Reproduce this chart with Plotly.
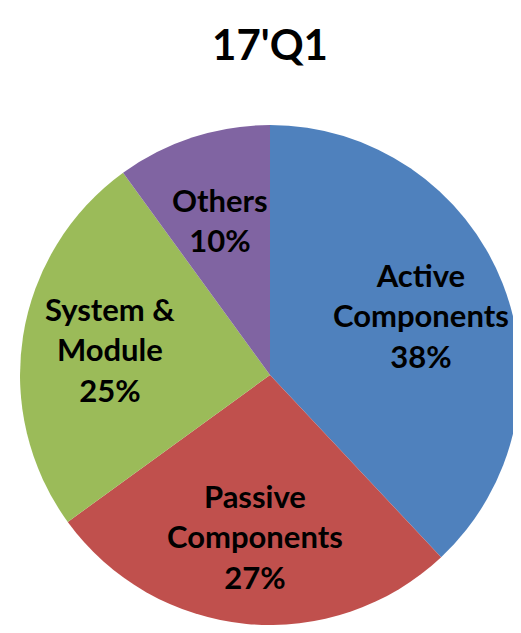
import math
import plotly.graph_objects as go

categories = ["Active<br>Components", "Passive<br>Components", "System &<br>Module", "Others"]
values = [38, 27, 25, 10]
colors = ["#4F81BD", "#C0504D", "#9BBB59", "#8064A2"]
title_text = "17'Q1"

# page body has an 8px margin, so the figure is drawn 8px smaller and offset
W, H = 513, 625
dom_x = [12 / W, 512 / W]
dom_y = [8 / H, 508 / H]
label_frac = 0.65  # labels sit at this fraction of the radius, along each slice's mid-angle

fig = go.Figure(go.Pie(
    labels=categories,
    values=values,
    sort=False,
    direction="clockwise",
    rotation=0,
    marker=dict(colors=colors, line=dict(width=0)),
    textinfo="none",
    hoverinfo="label+percent",
    domain=dict(x=dom_x, y=dom_y),
    showlegend=False,
))

# data labels, positioned from the cumulative slice angles
cx = (dom_x[0] + dom_x[1]) / 2 * W
cy = (1 - (dom_y[0] + dom_y[1]) / 2) * H
R = min((dom_x[1] - dom_x[0]) * W, (dom_y[1] - dom_y[0]) * H) / 2
total = sum(values)
cum = 0
for lab, v in zip(categories, values):
    mid = (cum + v / 2) / total * 2 * math.pi
    cum += v
    px = cx + label_frac * R * math.sin(mid)
    py = cy - label_frac * R * math.cos(mid)
    fig.add_annotation(
        x=px / W, y=1 - py / H, xref="paper", yref="paper",
        text=f"{lab}<br>{round(v / total * 100)}%",
        showarrow=False, align="center", xanchor="center", yanchor="middle",
        font=dict(family="Lato", size=31, color="#000000", weight="bold"),
    )

fig.update_layout(
    width=W, height=H,
    margin=dict(l=0, r=0, t=0, b=0),
    paper_bgcolor="white",
    plot_bgcolor="white",
    title=dict(text=title_text, x=262 / W, xanchor="center", y=1 - 37 / H, yanchor="middle",
               font=dict(family="Lato", size=42, color="#000000", weight="bold")),
)

fig.write_html("out.html")
